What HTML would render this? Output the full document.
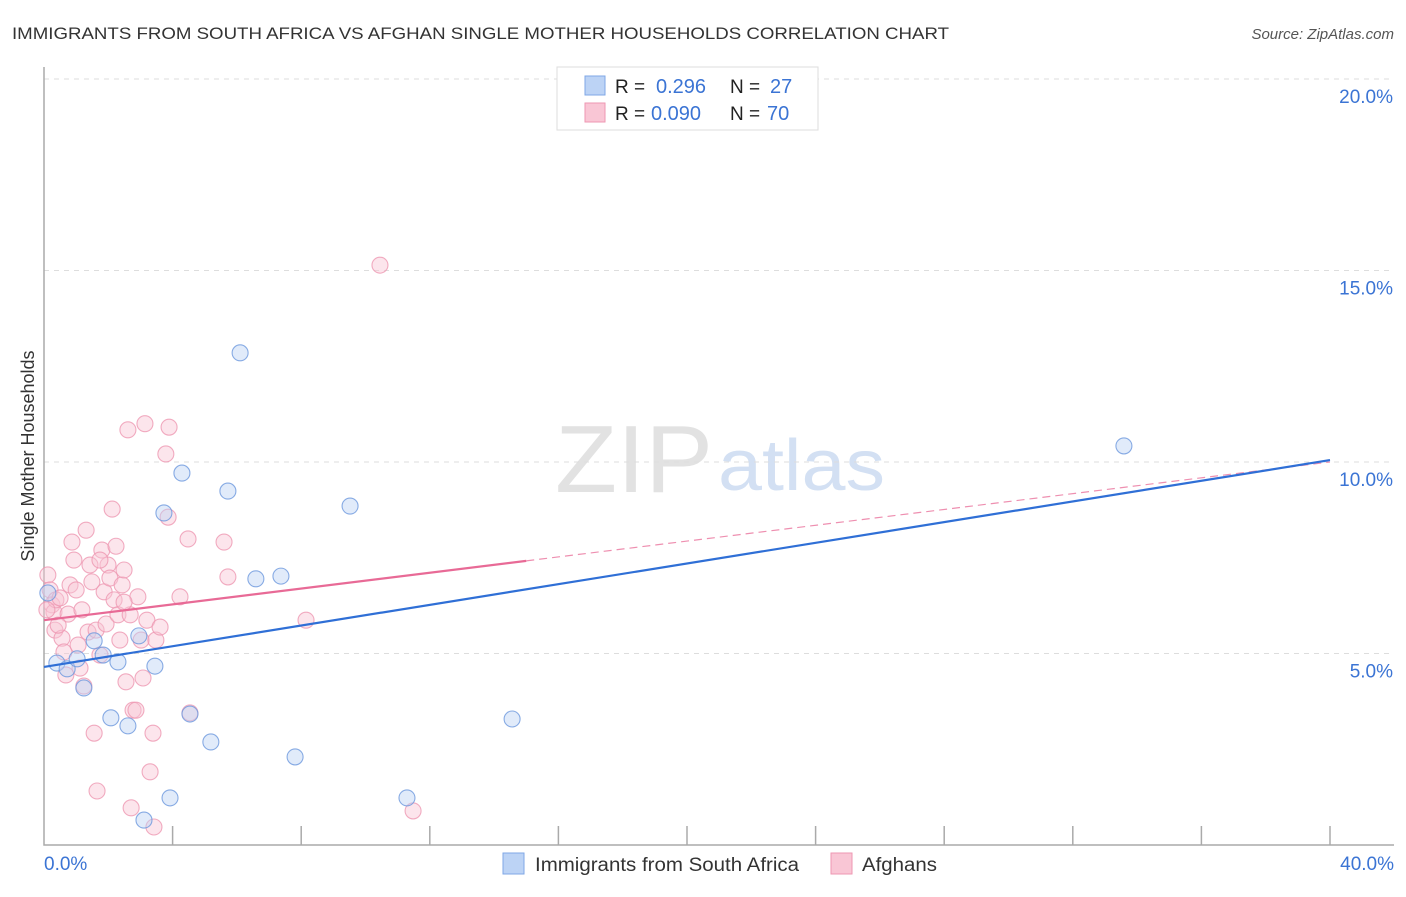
<!DOCTYPE html>
<html><head><meta charset="utf-8"><style>
body{margin:0;background:#fff;font-family:"Liberation Sans",sans-serif}
svg text{font-family:"Liberation Sans",sans-serif}
</style></head><body>
<svg id="chart" width="1406" height="892" xmlns="http://www.w3.org/2000/svg">
<text x="12" y="39" font-size="17" fill="#333" textLength="937" lengthAdjust="spacingAndGlyphs">IMMIGRANTS FROM SOUTH AFRICA VS AFGHAN SINGLE MOTHER HOUSEHOLDS CORRELATION CHART</text>
<text x="1394" y="39" font-size="15" fill="#555" font-style="italic" text-anchor="end">Source: ZipAtlas.com</text>
<g>
<text x="555" y="492" font-size="96" fill="#e2e2e2" textLength="158" lengthAdjust="spacingAndGlyphs" font-family="Liberation Serif,serif">ZIP</text>
<text x="718" y="490" font-size="72" fill="#d3e0f3" textLength="167" lengthAdjust="spacingAndGlyphs">atlas</text>
</g>
<g id="grid"></g>
<g id="axes"></g>
<g id="pts"></g>
<g id="lines"></g>
<text transform="translate(34,456) rotate(-90)" font-size="18" fill="#333" text-anchor="middle">Single Mother Households</text>
<g>
<rect x="557" y="67" width="261" height="63" fill="#fff" stroke="#ddd"/>
<rect x="585" y="76" width="20" height="19" fill="#bcd3f5" stroke="#7fa7e6"/>
<rect x="585" y="103" width="20" height="19" fill="#f9c6d5" stroke="#ee97b2"/>
<text x="615" y="93" font-size="19" fill="#222">R = </text><text x="656" y="93" font-size="20" fill="#3b74d4">0.296</text>
<text x="730" y="93" font-size="19" fill="#222">N = </text><text x="770" y="93" font-size="20" fill="#3b74d4">27</text>
<text x="615" y="120" font-size="19" fill="#222">R = </text><text x="651" y="120" font-size="20" fill="#3b74d4">0.090</text>
<text x="730" y="120" font-size="19" fill="#222">N = </text><text x="767" y="120" font-size="20" fill="#3b74d4">70</text>
</g>
<g>
<rect x="503" y="853" width="21" height="21" fill="#bcd3f5" stroke="#7fa7e6"/>
<text x="535" y="871" font-size="19" fill="#333" textLength="264" lengthAdjust="spacingAndGlyphs">Immigrants from South Africa</text>
<rect x="831" y="853" width="21" height="21" fill="#f9c6d5" stroke="#ee97b2"/>
<text x="862" y="871" font-size="19" fill="#333" textLength="75" lengthAdjust="spacingAndGlyphs">Afghans</text>
</g>
</svg>
<script>
const blueX=[0.40,0.72,1.03,1.24,1.56,1.84,2.30,2.08,2.61,2.95,3.45,3.73,4.29,4.54,5.19,5.72,6.10,6.59,7.37,7.81,9.52,11.29,14.56,33.59,3.92,3.11,0.12];
const blueY=[4.75,4.60,4.86,4.10,5.33,4.96,4.78,3.32,3.11,5.46,4.67,8.67,9.71,3.42,2.69,9.24,12.85,6.95,7.02,2.30,8.85,1.23,3.29,10.42,1.23,0.65,6.58];
const pinkX=[0.12,0.19,0.25,0.31,0.37,0.09,0.50,0.34,0.56,0.62,0.75,0.81,0.87,0.93,1.00,1.06,1.12,1.18,1.24,1.31,1.37,1.43,1.49,1.56,1.62,1.65,1.74,1.80,1.87,1.93,1.99,2.05,2.12,2.18,2.24,2.30,2.36,2.43,2.49,2.55,2.61,2.68,2.71,2.77,2.86,2.92,3.02,3.08,3.14,3.20,3.30,3.39,3.42,3.48,3.61,3.79,3.86,3.89,4.23,4.48,4.54,5.60,5.72,8.15,10.45,11.48,0.68,1.74,0.44,2.49];
const pinkY=[7.05,6.66,6.27,6.08,6.40,6.14,6.45,5.61,5.40,5.04,6.03,6.79,7.91,7.44,6.66,5.22,4.62,6.14,4.15,8.22,5.56,7.31,6.87,2.92,5.61,1.41,4.96,7.70,6.61,5.77,7.31,6.97,8.77,6.40,7.80,6.01,5.35,6.79,7.18,4.26,10.84,6.01,0.97,3.52,3.52,6.48,5.35,4.36,11.00,5.87,1.91,2.92,0.47,5.35,5.69,10.21,8.56,10.91,6.48,7.99,3.45,7.91,7.00,5.87,15.14,0.89,4.44,7.44,5.74,6.34];
const yTicks=[5,10,15,20];
const xTickVals=[0,4,8,12,16,20,24,28,32,36,40];
const blueFit=[4.65,10.05];
const pinkFit=[5.87,10.0];
const pinkSolidEnd=15;
const X=v=>44+v/40*1286, Y=v=>845-v/5*191.5;
const NS="http://www.w3.org/2000/svg";
function mk(t,a,p){const e=document.createElementNS(NS,t);for(const k in a)e.setAttribute(k,a[k]);p.appendChild(e);return e;}
const grid=document.getElementById('grid'),axes=document.getElementById('axes'),pts=document.getElementById('pts'),lines=document.getElementById('lines');
yTicks.forEach(v=>{
 const l=mk('line',{x1:44,x2:1394,y1:Y(v),y2:Y(v),stroke:'#ddd','stroke-dasharray':'5,5'},grid);
 
 
 const t=mk('text',{x:1393,y:Y(v)+24,'font-size':19,fill:'#3b74d4','text-anchor':'end'},axes);t.textContent=v.toFixed(1)+'%';
 
 
});
const ax=mk('path',{d:'M44,67 V845 H1394',fill:'none',stroke:'#aaa','stroke-width':1.5},axes);


xTickVals.slice(1).forEach(v=>{
 const l=mk('line',{x1:X(v),x2:X(v),y1:826,y2:845,stroke:'#aaa','stroke-width':1.5},axes);
 
 
});
[[0,'start',44],[40,'end',1394]].forEach(([v,a,x])=>{
 const t=mk('text',{x:x,y:870,'font-size':19,fill:'#3b74d4','text-anchor':a},axes);t.textContent=v.toFixed(1)+'%';
 
 
});
function dots(xs,ys,fill,stroke,name){xs.forEach((x,i)=>{
 const c=mk('circle',{cx:X(x),cy:Y(ys[i]),r:8,fill:fill,'fill-opacity':0.45,stroke:stroke,'stroke-opacity':0.8,'stroke-width':1.1},pts);
 
 
});}
dots(pinkX,pinkY,'#f9c6d5','#ee97b2','afghan-point');
dots(blueX,blueY,'#bcd3f5','#6b97dd','south-africa-point');
const pm=pinkFit[0]+(pinkFit[1]-pinkFit[0])*pinkSolidEnd/40;
const pd=mk('line',{x1:X(pinkSolidEnd),y1:Y(pm),x2:X(40),y2:Y(pinkFit[1]),stroke:'#ee8fb0','stroke-width':1.2,'stroke-dasharray':'8,5'},lines);


const bl=mk('line',{x1:X(0),y1:Y(blueFit[0]),x2:X(40),y2:Y(blueFit[1]),stroke:'#2f6fd6','stroke-width':2.2},lines);


const pl=mk('line',{x1:X(0),y1:Y(pinkFit[0]),x2:X(pinkSolidEnd),y2:Y(pm),stroke:'#e86a96','stroke-width':2.2},lines);


</script>
</body></html>
